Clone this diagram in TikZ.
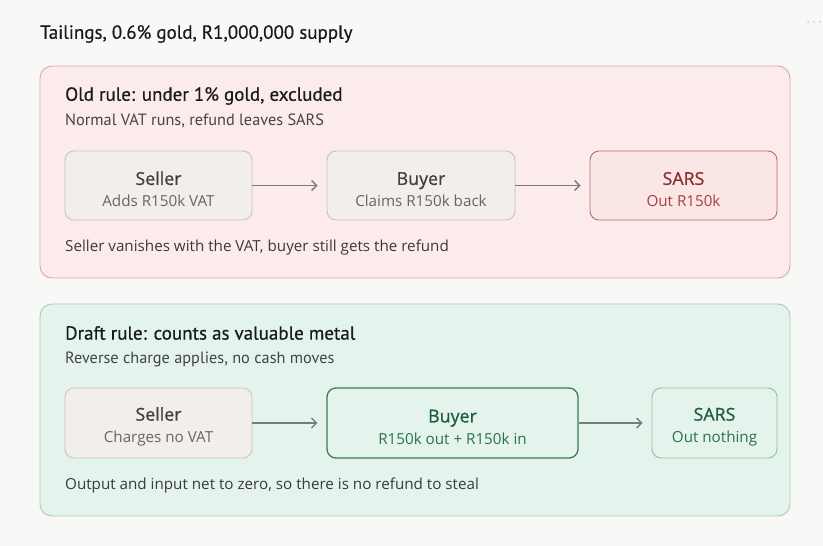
\documentclass[tikz,border=0pt]{standalone}
\usepackage{fontspec}
\setmainfont{Open Sans}
\newfontfamily\headfont[FakeBold=0.5]{PT Sans}
\newfontfamily\subfont{PT Sans}
\newfontfamily\boxhead[FakeBold=0.8]{Open Sans}
\usetikzlibrary{arrows.meta}
\definecolor{bg}{HTML}{F8F8F6}
\definecolor{redfill}{HTML}{FCEBEB}
\definecolor{redline}{HTML}{D8ABAB}
\definecolor{greenfill}{HTML}{E4F4EC}
\definecolor{greenline}{HTML}{A3CDB9}
\definecolor{boxfill}{HTML}{F2EFEA}
\definecolor{boxline}{HTML}{C8C3BB}
\definecolor{titlegray}{HTML}{3F3F3F}
\definecolor{subgray}{HTML}{666666}
\definecolor{ink}{HTML}{1A1A1A}
\definecolor{inkgray}{HTML}{444444}
\definecolor{notegray}{HTML}{3A3A3A}
\definecolor{sarsred}{HTML}{B96B6B}
\definecolor{sarsredtxt}{HTML}{8A2F30}
\definecolor{sarsredsub}{HTML}{A5403F}
\definecolor{sarsredfill}{HTML}{FBE6E6}
\definecolor{buyergreen}{HTML}{3A7A5E}
\definecolor{buyertxt}{HTML}{1F5A42}
\definecolor{buyersub}{HTML}{2C7052}
\definecolor{sarsgreen}{HTML}{8FBFA9}
\definecolor{arrowgray}{HTML}{7A7A7A}
\tikzset{
  panel/.style={rounded corners=12pt, line width=0.9pt},
  stepbox/.style={draw=boxline, fill=boxfill, line width=0.9pt, rounded corners=9pt, minimum height=69pt, inner sep=0pt, align=center, text=titlegray, font=\fontsize{15}{22}\selectfont},
  headtxt/.style={anchor=west, inner sep=0pt, font=\headfont\fontsize{19}{22}\selectfont, text=ink},
  subtxt/.style={anchor=west, inner sep=0pt, font=\subfont\fontsize{16.3}{19}\selectfont, text=inkgray},
  notetxt/.style={anchor=west, inner sep=0pt, font=\fontsize{15.2}{18}\selectfont, text=notegray},
  flow/.style={draw=arrowgray, line width=1.3pt, -{Straight Barb[length=5pt, width=10pt, line width=1.3pt]}, shorten >=9pt},
}
\newcommand{\boxtext}[2]{{\boxhead\fontsize{17.8}{22}\selectfont\rule{0pt}{21pt}#1}\\{\fontsize{15.2}{22}\selectfont\color{subgray}#2}}
\newcommand{\boxtextc}[3]{{\boxhead\fontsize{17.8}{22}\selectfont\rule{0pt}{21pt}#1}\\{\fontsize{15.2}{22}\selectfont\color{#3}#2}}
\begin{document}
\begin{tikzpicture}[x=1pt,y=-1pt]
\useasboundingbox (0,0) rectangle (823,546);
\fill[bg] (0,0) rectangle (823,546);
\foreach \dx in {808,814,820} \fill[black!20] (\dx,22) circle (1pt);
\node[headtxt] (title) at (40,34) {Tailings, 0.6\% gold, R1,000,000 supply};

% old rule panel
\draw[panel, draw=redline, fill=redfill] (40,66) rectangle (790,278);
\node[headtxt] (oldh) at (65,96) {Old rule: under 1\% gold, excluded};
\node[subtxt] (olds) at (65,121) {Normal VAT runs, refund leaves SARS};
\node[stepbox, minimum width=187pt] (s1) at (158.5,185.5) {\boxtext{Seller}{Adds R150k VAT}};
\node[stepbox, minimum width=188pt] (b1) at (421,185.5) {\boxtext{Buyer}{Claims R150k back}};
\node[stepbox, minimum width=187pt, draw=sarsred, fill=sarsredfill, text=sarsredtxt] (r1) at (683.5,185.5) {\boxtextc{SARS}{Out R150k}{sarsredsub}};
\draw[flow] (s1) -- (b1);
\draw[flow] (b1) -- (r1);
\node[notetxt] (oldn) at (65,248) {Seller vanishes with the VAT, buyer still gets the refund};

% draft rule panel
\draw[panel, draw=greenline, fill=greenfill] (40,304) rectangle (790,516);
\node[headtxt] (newh) at (65,333) {Draft rule: counts as valuable metal};
\node[subtxt] (news) at (65,359) {Reverse charge applies, no cash moves};
\node[stepbox, minimum width=187pt, minimum height=70pt] (s2) at (158.5,423) {\boxtext{Seller}{Charges no VAT}};
\node[stepbox, minimum width=251pt, minimum height=70pt, draw=buyergreen, line width=1.3pt, fill=greenfill, text=buyertxt] (b2) at (452.5,423) {\boxtextc{Buyer}{R150k out + R150k in}{buyersub}};
\node[stepbox, minimum width=125pt, minimum height=70pt, draw=sarsgreen, fill=greenfill, text=buyertxt] (r2) at (714.5,423) {\boxtextc{SARS}{Out nothing}{buyersub}};
\draw[flow] (s2) -- (b2);
\draw[flow] (b2) -- (r2);
\node[notetxt] (newn) at (65,486) {Output and input net to zero, so there is no refund to steal};
\end{tikzpicture}
\end{document}
